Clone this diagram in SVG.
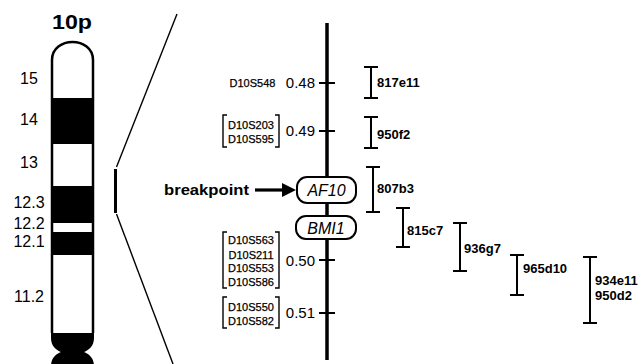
<svg xmlns="http://www.w3.org/2000/svg" width="642" height="364" viewBox="0 0 642 364">
  <style>
    text { font-family: "Liberation Sans", Arial, Helvetica, sans-serif; fill: #000; }
    .band { font-size: 16px; text-anchor: middle; }
    .title { font-size: 20px; font-weight: bold; text-anchor: middle; }
    .marker { font-size: 11px; text-anchor: middle; stroke: #000; stroke-width: 0.25; }
    .pos { font-size: 15px; text-anchor: end; }
    .clone { font-size: 13px; font-weight: bold; }
    .gene { font-size: 16px; font-style: italic; text-anchor: middle; }
    .bp { font-size: 15px; font-weight: bold; text-anchor: end; }
    .thin { stroke: #000; stroke-width: 1.4; fill: none; }
    .bar { stroke: #000; stroke-width: 2; fill: none; }
    .tick { stroke: #000; stroke-width: 2; }
    .box { fill: #fff; stroke: #000; stroke-width: 2; }
  </style>

  <!-- chromosome 10p ideogram -->
  <g id="chromosome">
    <text class="title" x="72" y="29" textLength="40" lengthAdjust="spacingAndGlyphs">10p</text>
    <path d="M52,333 V60 C52,36 93,36 93,60 V333" fill="#fff" stroke="#000" stroke-width="2.5"/>
    <rect x="51" y="98" width="43" height="46" fill="#000"/>
    <rect x="51" y="186" width="43" height="37" fill="#000"/>
    <rect x="51" y="232" width="43" height="23" fill="#000"/>
    <!-- centromere -->
    <path d="M51,333 H94 V338 C94,346 89,350 84,352 C89,354 94,358 94,366 H51 C51,358 56,354 61,352 C56,350 51,346 51,338 Z" fill="#000"/>
    <text class="band" x="29" y="84">15</text>
    <text class="band" x="29" y="125">14</text>
    <text class="band" x="29" y="168">13</text>
    <text class="band" x="29" y="208">12.3</text>
    <text class="band" x="29" y="229">12.2</text>
    <text class="band" x="29" y="247">12.1</text>
    <text class="band" x="29" y="302">11.2</text>
  </g>

  <!-- expansion lines from the region of interest -->
  <g id="zoom-lines">
    <path d="M177,14 L116.5,167" class="thin"/>
    <path d="M116.5,214 L173,364" class="thin"/>
    <line x1="115.5" y1="169" x2="115.5" y2="213" stroke="#000" stroke-width="3"/>
  </g>

  <!-- physical map axis with ticks -->
  <g id="connectors">
    <line x1="327" y1="23" x2="327" y2="360" stroke="#000" stroke-width="3.5"/>
    <line class="tick" x1="319" y1="83" x2="335" y2="83"/>
    <line class="tick" x1="319" y1="131" x2="335" y2="131"/>
    <line class="tick" x1="319" y1="260" x2="335" y2="260"/>
    <line class="tick" x1="319" y1="313" x2="335" y2="313"/>
    <!-- breakpoint arrow -->
    <line x1="255" y1="190" x2="284" y2="190" stroke="#000" stroke-width="3.2"/>
    <polygon points="282,183 296,190 282,197" fill="#000"/>
  </g>

  <!-- marker labels and positions -->
  <g id="marker-048">
    <text class="marker" x="252.5" y="87">D10S548</text>
    <text class="pos" x="315" y="88">0.48</text>
  </g>
  <g id="marker-049">
    <path class="thin" d="M227,115 H223 V147 H227 M275,115 H279 V147 H275"/>
    <text class="marker" x="251" y="129">D10S203</text>
    <text class="marker" x="251" y="143">D10S595</text>
    <text class="pos" x="315" y="136">0.49</text>
  </g>
  <g id="marker-050">
    <path class="thin" d="M227,232 H223 V288 H227 M275,232 H279 V288 H275"/>
    <text class="marker" x="251" y="244">D10S563</text>
    <text class="marker" x="251" y="258.5">D10S211</text>
    <text class="marker" x="251" y="272">D10S553</text>
    <text class="marker" x="251" y="285.5">D10S586</text>
    <text class="pos" x="315" y="266">0.50</text>
  </g>
  <g id="marker-051">
    <path class="thin" d="M227,297 H223 V328 H227 M275,297 H279 V328 H275"/>
    <text class="marker" x="251" y="310.5">D10S550</text>
    <text class="marker" x="251" y="324.5">D10S582</text>
    <text class="pos" x="315" y="318">0.51</text>
  </g>

  <!-- breakpoint label -->
  <g id="breakpoint">
    <text class="bp" x="249" y="195" textLength="85" lengthAdjust="spacingAndGlyphs">breakpoint</text>
  </g>

  <!-- genes -->
  <g id="gene-AF10">
    <rect class="box" x="297" y="177" width="59" height="26" rx="10"/>
    <text class="gene" x="326.5" y="196">AF10</text>
  </g>
  <g id="gene-BMI1">
    <rect class="box" x="296" y="216" width="60" height="23" rx="10"/>
    <text class="gene" x="326" y="233.5">BMI1</text>
  </g>

  <!-- YAC clones -->
  <g id="clone-817e11">
    <path class="bar" d="M371,67 V98 M364,67 H378 M364,98 H378"/>
    <text class="clone" x="377" y="87">817e11</text>
  </g>
  <g id="clone-950f2">
    <path class="bar" d="M371,117 V148 M364,117 H378 M364,148 H378"/>
    <text class="clone" x="377" y="139">950f2</text>
  </g>
  <g id="clone-807b3">
    <path class="bar" d="M373,167 V212 M366,167 H380 M366,212 H380"/>
    <text class="clone" x="377" y="193">807b3</text>
  </g>
  <g id="clone-815c7">
    <path class="bar" d="M403,208 V247 M396,208 H410 M396,247 H410"/>
    <text class="clone" x="407" y="235">815c7</text>
  </g>
  <g id="clone-936g7">
    <path class="bar" d="M460,223 V271 M453,223 H467 M453,271 H467"/>
    <text class="clone" x="464" y="253">936g7</text>
  </g>
  <g id="clone-965d10">
    <path class="bar" d="M517,255 V295 M510,255 H524 M510,295 H524"/>
    <text class="clone" x="523" y="273">965d10</text>
  </g>
  <g id="clone-934e11">
    <path class="bar" d="M590,257 V323 M583,257 H597 M583,323 H597"/>
    <text class="clone" x="595" y="285">934e11</text>
    <text class="clone" x="595" y="300">950d2</text>
  </g>
</svg>
